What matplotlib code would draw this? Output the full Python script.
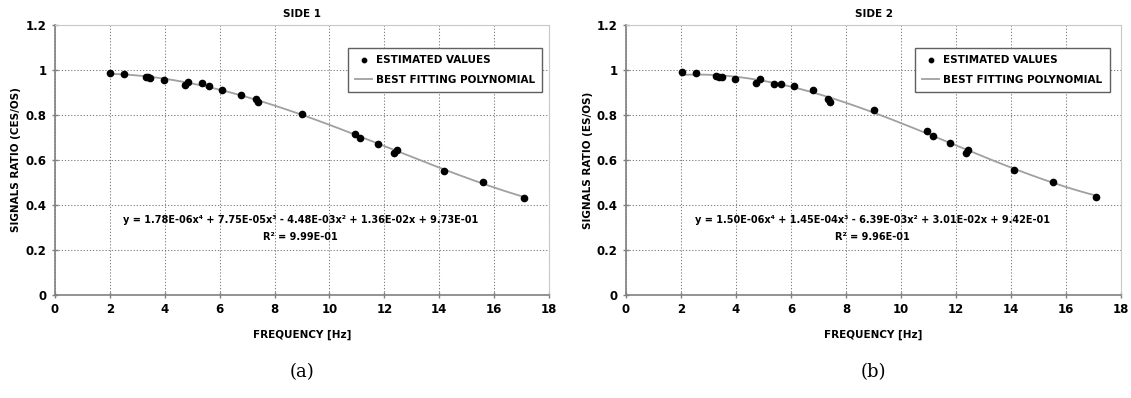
import matplotlib
matplotlib.use("Agg")
import matplotlib.pyplot as plt
import numpy as np

# side 1 estimated values
freq1 = [2.02, 2.52, 3.30, 3.39, 3.47, 3.96, 4.72, 4.83, 5.35, 5.60, 6.10, 6.78,
         7.33, 7.40, 8.99, 10.95, 11.13, 11.77, 12.34, 12.45, 14.17, 15.58, 17.1]
ratio1 = [0.988, 0.981, 0.969, 0.969, 0.966, 0.956, 0.935, 0.945, 0.941, 0.927, 0.913, 0.889,
          0.873, 0.859, 0.803, 0.716, 0.699, 0.673, 0.630, 0.643, 0.551, 0.504, 0.429]

# side 2 estimated values
freq2 = [2.02, 2.54, 3.29, 3.38, 3.49, 3.98, 4.74, 4.86, 5.37, 5.62, 6.12, 6.79,
         7.33, 7.42, 9.00, 10.93, 11.15, 11.77, 12.36, 12.45, 14.12, 15.53, 17.1]
ratio2 = [0.991, 0.985, 0.972, 0.970, 0.967, 0.959, 0.941, 0.960, 0.936, 0.936, 0.927, 0.911,
          0.870, 0.856, 0.821, 0.729, 0.705, 0.675, 0.631, 0.643, 0.557, 0.503, 0.434]

# polynomial coefficients as printed on the chart (x^4 ... x^0)
coef1 = [1.78e-06, 7.75e-05, -4.48e-03, 1.36e-02, 9.73e-01]
coef2 = [1.50e-06, 1.45e-04, -6.39e-03, 3.01e-02, 9.42e-01]

eq1 = "y = 1.78E-06x\u2074 + 7.75E-05x\u00b3 - 4.48E-03x\u00b2 + 1.36E-02x + 9.73E-01"
eq2 = "y = 1.50E-06x\u2074 + 1.45E-04x\u00b3 - 6.39E-03x\u00b2 + 3.01E-02x + 9.42E-01"
r2_1 = "R\u00b2 = 9.99E-01"
r2_2 = "R\u00b2 = 9.96E-01"

titles = ["SIDE 1", "SIDE 2"]
ylabels = ["SIGNALS RATIO (CES/OS)", "SIGNALS RATIO (ES/OS)"]
captions = ["(a)", "(b)"]

plt.rcParams['font.family'] = 'DejaVu Sans'
plt.rcParams['font.weight'] = 'bold'

fig = plt.figure(figsize=(11.31, 3.98), dpi=100)
axes = [fig.add_axes([0.0486, 0.2588, 0.4368, 0.6784]),
        fig.add_axes([0.5535, 0.2588, 0.4377, 0.6784])]

panels = [(freq1, ratio1, coef1, eq1, r2_1, (0.593, 0.915)),
          (freq2, ratio2, coef2, eq2, r2_2, (0.584, 0.915))]

for i, ax in enumerate(axes):
    fr, ra, coef, eq, r2, anchor = panels[i]
    xs = np.linspace(min(fr), max(fr), 200)
    ax.plot(xs, np.polyval(coef, xs), color='#a0a0a0', lw=1.3, label='BEST FITTING POLYNOMIAL', zorder=2)
    ax.plot(fr, ra, 'o', color='black', ms=4.5, label='ESTIMATED VALUES', zorder=3)

    ax.set_xlim(0, 18)
    ax.set_ylim(0, 1.2)
    ax.set_xticks(np.arange(0, 19, 2))
    ax.set_yticks([0, 0.2, 0.4, 0.6, 0.8, 1, 1.2])
    ax.set_yticklabels(['0', '0.2', '0.4', '0.6', '0.8', '1', '1.2'])
    ax.grid(True, ls=(0, (1.2, 1.8)), color='#808080', lw=0.75)
    ax.tick_params(direction='inout', length=5, width=1, colors='#808080', labelcolor='black',
                   labelsize=8.5)
    for lab in ax.get_xticklabels() + ax.get_yticklabels():
        lab.set_fontweight('bold')
    ax.spines['left'].set_color('#808080')
    ax.spines['bottom'].set_color('#808080')
    ax.spines['left'].set_linewidth(1.2)
    ax.spines['bottom'].set_linewidth(1.2)
    ax.spines['top'].set_color('#c8c8c8')
    ax.spines['right'].set_color('#c8c8c8')

    ax.set_title(titles[i], fontsize=7.5, fontweight='bold', pad=6)
    ax.set_xlabel('FREQUENCY [Hz]', fontsize=7.5, fontweight='bold', labelpad=10)
    ax.set_ylabel(ylabels[i], fontsize=7.5, fontweight='bold', labelpad=3)

    ax.text(8.95, 0.333, eq, ha='center', va='center', fontsize=7, fontweight='bold')
    ax.text(8.95, 0.258, r2, ha='center', va='center', fontsize=7, fontweight='bold')

    handles, labels = ax.get_legend_handles_labels()
    leg = ax.legend(handles[::-1], labels[::-1], loc='upper left', bbox_to_anchor=anchor,
                    borderaxespad=0, fancybox=False, framealpha=1, edgecolor='#606060',
                    prop={'size': 7.5, 'weight': 'bold'}, handlelength=1.6, handletextpad=0.4,
                    borderpad=0.7, labelspacing=0.9, markerscale=0.7)
    leg.get_frame().set_linewidth(1)

    ax.text(0.5, -0.285, captions[i], transform=ax.transAxes, ha='center', va='center',
            fontsize=13, family='DejaVu Serif', fontweight='normal')

fig.savefig('out.png', dpi=100)
